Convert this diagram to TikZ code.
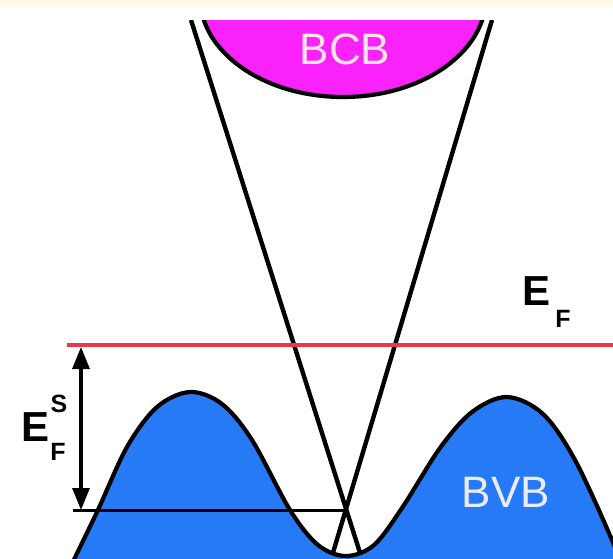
\documentclass[tikz,border=0pt]{standalone}
\usepackage{fontspec}
\setmainfont{Liberation Sans}
\usepackage{tikz}
\usetikzlibrary{arrows.meta}
\definecolor{bcbmag}{RGB}{250,34,250}
\definecolor{bvbblue}{RGB}{38,122,245}
\definecolor{fermired}{RGB}{232,56,74}
\definecolor{topcream}{RGB}{255,249,234}

\begin{document}
\begin{tikzpicture}[x=1pt,y=-1pt,
            band/.style={draw=black,line width=4.2pt,line join=round},
            cone/.style={black,line width=4.4pt},
            bigE/.style={font=\fontsize{42}{44}\selectfont\bfseries,inner sep=0pt},
            idx/.style={font=\fontsize{25}{27}\selectfont\bfseries,inner sep=0pt},
            bandname/.style={font=\fontsize{44}{46}\selectfont,inner sep=0pt},
            >={Triangle[length=22pt,width=17pt]}]
            \useasboundingbox (0,0) rectangle (613,558);
            \fill[white] (0,0) rectangle (613,558);
            \fill[topcream] (0,0) rectangle (613,6);
            \coordinate (ltop) at (191,20);
            \coordinate (lbot) at (361,556);
            \coordinate (rtop) at (492,20);
            \coordinate (rbot) at (332,556);
            \coordinate (cross) at (346,509);
            \coordinate (hleft) at (73,510);
            \coordinate (hright) at (346,510);
            \coordinate (redl) at (67,345);
            \coordinate (redr) at (613,345);
            \coordinate (atop) at (81,347);
            \coordinate (abot) at (81,510);
            \begin{scope}
                \clip (0,20) rectangle (613,558);
                \filldraw[band,fill=bcbmag] (343,-3) ellipse [x radius=143, y radius=100];
                \draw[cone] (ltop) -- (lbot);
                \draw[cone] (rtop) -- (rbot);
                \filldraw[band,fill=bvbblue] plot[smooth,tension=0.55] coordinates {
                    (64,580) (97,512) (127,447) (157,407) (190,392) (222,404)
                    (252,440) (290,510) (318,545) (346,556) (374,545) (402,508)
                    (440,448) (472,412) (507,397) (543,414) (575,460) (612,540) (625,575)}
                    -- (625,590) -- (64,590) -- cycle;
            \end{scope}
            \draw[fermired,line width=3.4pt] (redl) -- (redr);
            \draw[black,line width=3pt] (hleft) -- (hright);
            \draw[<->,line width=3.2pt] (atop) -- (abot);
            \node[bandname,text=pink!40!white] (bcb) at (345,49) {BCB};
            \node[bandname,text=blue!8!white] (bvb) at (506,492) {BVB};
            \node[bigE] (ef) at (537,291) {E};
            \node[idx] (eff) at (563,319) {F};
            \node[bigE] (efs) at (36,427) {E};
            \node[idx] (efss) at (59,404) {S};
            \node[idx] (efsf) at (58,452) {F};
\end{tikzpicture}
\end{document}
